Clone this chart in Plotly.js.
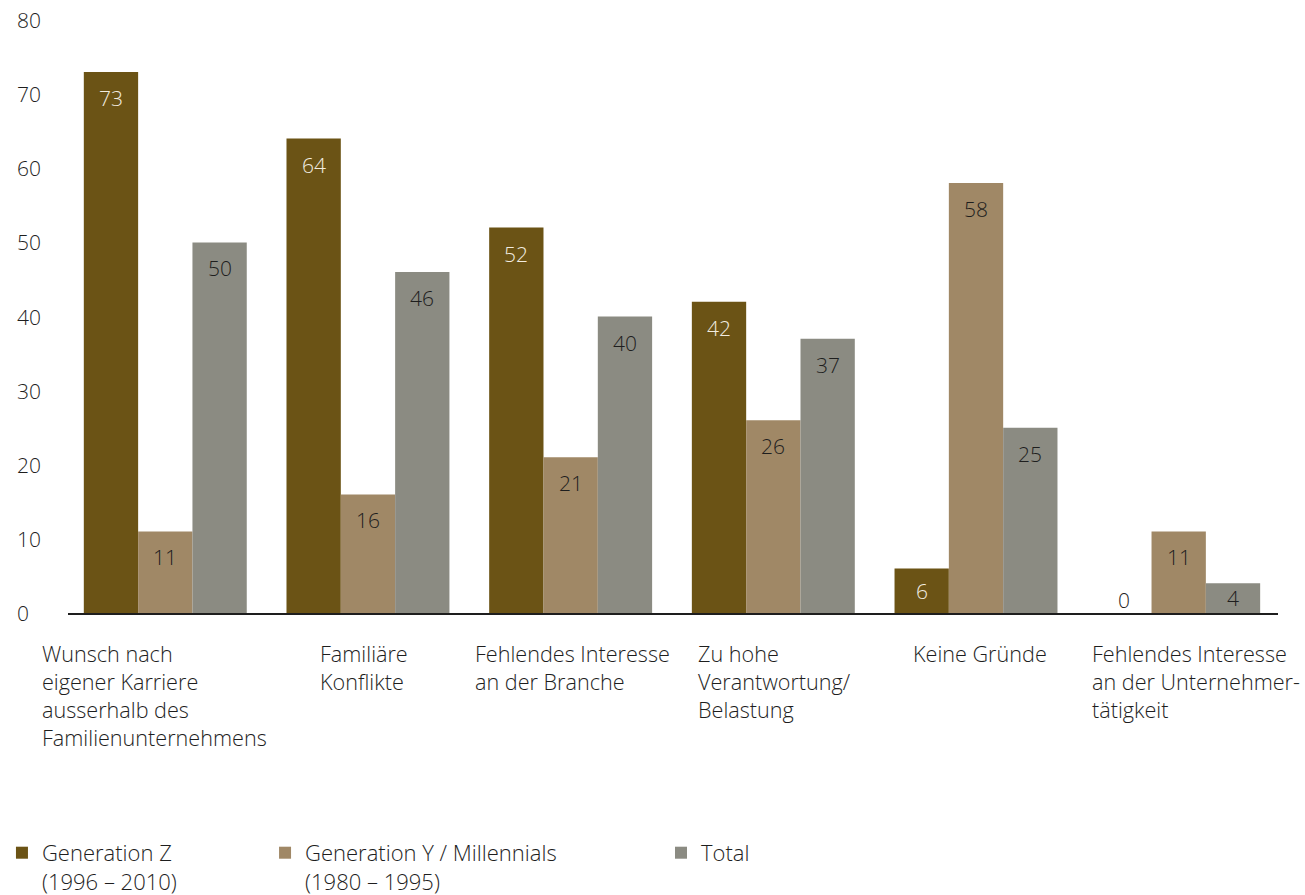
<!DOCTYPE html>
<html>
<head>
<meta charset="utf-8">
<script src="https://cdn.plot.ly/plotly-3.0.1.min.js"></script>
<style>
  html, body { margin: 0; padding: 0; background: #ffffff; }
  #chart { width: 1305px; height: 895px; }
</style>
</head>
<body>
<div id="chart"></div>
<script>
// ---- Data ----
const categories = [
  "Wunsch nach eigener Karriere ausserhalb des Familienunternehmens",
  "Familiäre Konflikte",
  "Fehlendes Interesse an der Branche",
  "Zu hohe Verantwortung/Belastung",
  "Keine Gründe",
  "Fehlendes Interesse an der Unternehmertätigkeit"
];
const categoryLabels = [
  "Wunsch nach<br>eigener Karriere<br>ausserhalb des<br>Familienunternehmens",
  "Familiäre<br>Konflikte",
  "Fehlendes Interesse<br>an der Branche",
  "Zu hohe<br>Verantwortung/<br>Belastung",
  "Keine Gründe",
  "Fehlendes Interesse<br>an der Unternehmer-<br>tätigkeit"
];
const seriesNames = [
  "Generation Z<br>(1996 – 2010)",
  "Generation Y / Millennials<br>(1980 – 1995)",
  "Total"
];
const genZ  = [73, 64, 52, 42, 6, 0];
const genY  = [11, 16, 21, 26, 58, 11];
const total = [50, 46, 40, 37, 25, 4];
const yTicks = [0, 10, 20, 30, 40, 50, 60, 70, 80];

// ---- Style ----
const FONT = "Open Sans, Noto Sans, sans-serif";
const WEIGHT = 300;
const TXT = "#1e1e1e";
const colors = ["#6b5315", "#a08866", "#8b8b82"];
const labelColors = ["#f2ece0", TXT, TXT];
const W = 0.268;
const offsets = [-1.5 * W, -0.5 * W, 0.5 * W];
const legends = ["legend", "legend2", "legend3"];
const seriesValues = [genZ, genY, total];

const margin = { l: 68, r: 27, t: 20, b: 282 };
const plotH = 895 - margin.t - margin.b;
const yMax = 80;
const ppu = plotH / yMax;

const traces = seriesValues.map((vals, k) => ({
  type: "bar",
  x: categories,
  y: vals,
  name: seriesNames[k],
  legend: legends[k],
  width: W,
  offset: offsets[k],
  marker: { color: colors[k], line: { width: 0 } },
  hoverinfo: "skip"
}));

const annotations = [];
// value labels
seriesValues.forEach((vals, k) => {
  vals.forEach((v, i) => {
    const h = v * ppu;
    const shift = -Math.min(26, h / 2, h - 13);
    const inside = h >= 26;
    annotations.push({
      xref: "x", yref: "y",
      x: i + offsets[k] + W / 2, y: v,
      text: String(v), showarrow: false,
      xanchor: "center", yanchor: "middle", yshift: shift,
      font: { family: FONT, weight: WEIGHT, size: 21, color: inside ? labelColors[k] : TXT }
    });
  });
});
// y tick labels (left aligned)
yTicks.forEach(t => {
  annotations.push({
    xref: "paper", yref: "y", x: -0.0438, y: t,
    text: String(t), showarrow: false,
    xanchor: "left", yanchor: "middle",
    font: { family: FONT, weight: WEIGHT, size: 21, color: TXT }
  });
});
// category labels
const catX = [-0.0224, 0.2074, 0.3355, 0.5198, 0.6975, 0.8455];
categoryLabels.forEach((t, i) => {
  annotations.push({
    xref: "paper", yref: "paper", x: catX[i], y: -0.043,
    text: t, showarrow: false, align: "left", borderpad: 0,
    xanchor: "left", yanchor: "top",
    font: { family: FONT, weight: WEIGHT, size: 21.6, color: TXT }
  });
});

const legendBase = {
  orientation: "h", xref: "container", yref: "container",
  yanchor: "top", xanchor: "left", y: 0.0705,
  valign: "top", bgcolor: "rgba(0,0,0,0)",
  font: { family: FONT, weight: WEIGHT, size: 22, color: TXT }
};

const layout = {
  width: 1305, height: 895,
  margin: margin,
  paper_bgcolor: "#ffffff", plot_bgcolor: "#ffffff",
  font: { family: FONT, weight: WEIGHT, size: 21, color: TXT },
  barmode: "overlay",
  showlegend: true,
  legend:  Object.assign({}, legendBase, { x: 0.0015 }),
  legend2: Object.assign({}, legendBase, { x: 0.2031 }),
  legend3: Object.assign({}, legendBase, { x: 0.5065 }),
  xaxis: {
    type: "category", range: [-0.48, 5.49], automargin: false,
    showticklabels: false, ticks: "", showgrid: false, zeroline: false,
    showline: true, linecolor: "#1e1e1e", linewidth: 1.5
  },
  yaxis: {
    range: [0, yMax], tickvals: yTicks, showticklabels: false, automargin: false,
    ticks: "", showgrid: false, zeroline: false, showline: false
  },
  annotations: annotations
};

Plotly.newPlot("chart", traces, layout, { displayModeBar: false, staticPlot: true });
</script>
</body>
</html>
